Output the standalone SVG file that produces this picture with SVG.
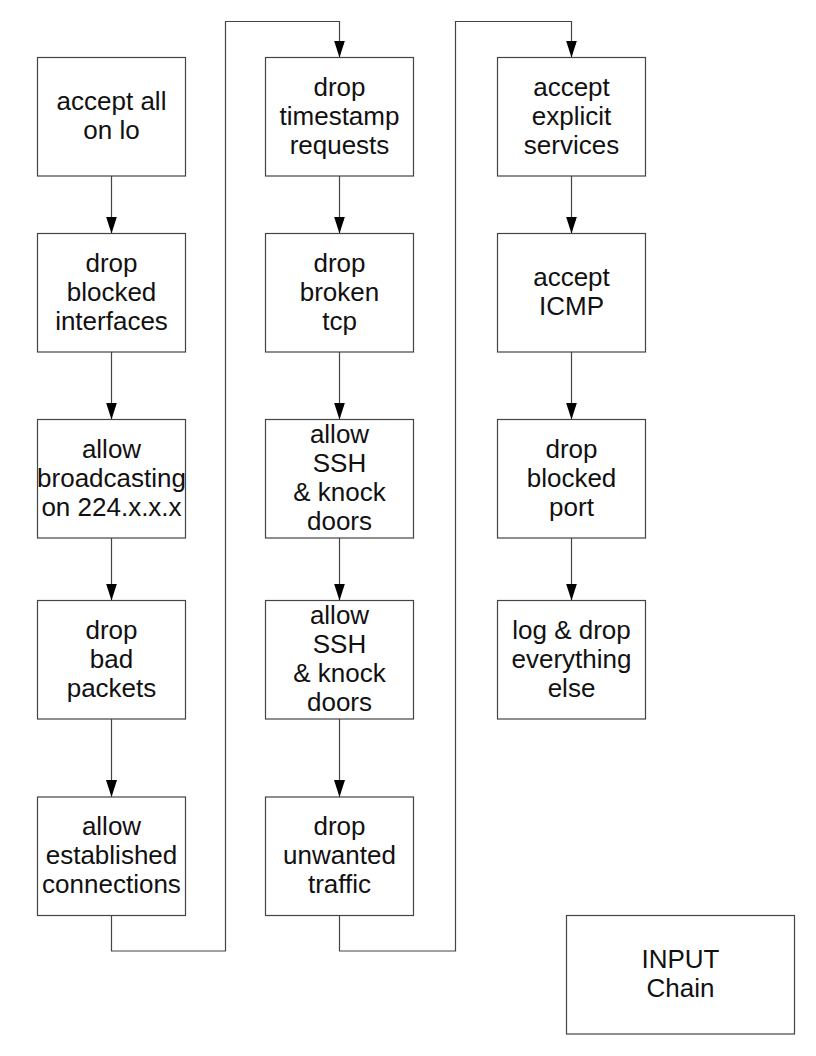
<svg xmlns="http://www.w3.org/2000/svg" width="816" height="1056" viewBox="0 0 816 1056">
<style>
.box{fill:#fff;stroke:#444;stroke-width:1.2}
.lbl{font-family:"Liberation Sans",Arial,sans-serif;font-size:26px;fill:#111;text-anchor:middle}
.con{fill:none;stroke:#444;stroke-width:1.2}
</style>
<defs>
<marker id="arr" viewBox="0 0 17 11" refX="17" refY="5.5" markerWidth="17" markerHeight="11" markerUnits="userSpaceOnUse" orient="auto">
<path d="M0,0 L17,5.5 L0,11 z" fill="#000"/>
</marker>
</defs>
<rect width="816" height="1056" fill="#fff"/>
<g id="connectors">
<path class="con" d="M111.5,176 V233.5" marker-end="url(#arr)"/>
<path class="con" d="M111.5,352 V419.5" marker-end="url(#arr)"/>
<path class="con" d="M111.5,538 V600.5" marker-end="url(#arr)"/>
<path class="con" d="M111.5,719 V797" marker-end="url(#arr)"/>
<path class="con" d="M111.5,915 V951 H225.5 V21.5 H339.5 V57.5" marker-end="url(#arr)"/>
<path class="con" d="M339.5,176 V233.5" marker-end="url(#arr)"/>
<path class="con" d="M339.5,352 V419.5" marker-end="url(#arr)"/>
<path class="con" d="M339.5,538 V600.5" marker-end="url(#arr)"/>
<path class="con" d="M339.5,719 V797" marker-end="url(#arr)"/>
<path class="con" d="M339.5,915 V951 H455.5 V21.5 H571.5 V57.5" marker-end="url(#arr)"/>
<path class="con" d="M571.5,176 V233.5" marker-end="url(#arr)"/>
<path class="con" d="M571.5,352 V419.5" marker-end="url(#arr)"/>
<path class="con" d="M571.5,538 V600.5" marker-end="url(#arr)"/>
</g>
<g id="n1"><rect class="box" x="37.5" y="57.5" width="148" height="118.5"/><text class="lbl" x="111.5" y="110">accept all</text><text class="lbl" x="111.5" y="139">on lo</text></g>
<g id="n2"><rect class="box" x="37.5" y="233.5" width="148" height="118.5"/><text class="lbl" x="111.5" y="271.5">drop</text><text class="lbl" x="111.5" y="300.5">blocked</text><text class="lbl" x="111.5" y="329.5">interfaces</text></g>
<g id="n3"><rect class="box" x="37.5" y="419.5" width="148" height="118.5"/><text class="lbl" x="111.5" y="457.5">allow</text><text class="lbl" x="111.5" y="486.5">broadcasting</text><text class="lbl" x="111.5" y="515.5">on 224.x.x.x</text></g>
<g id="n4"><rect class="box" x="37.5" y="600.5" width="148" height="118.5"/><text class="lbl" x="111.5" y="638.5">drop</text><text class="lbl" x="111.5" y="667.5">bad</text><text class="lbl" x="111.5" y="696.5">packets</text></g>
<g id="n5"><rect class="box" x="37.5" y="797" width="148" height="118.5"/><text class="lbl" x="111.5" y="835">allow</text><text class="lbl" x="111.5" y="864">established</text><text class="lbl" x="111.5" y="893">connections</text></g>
<g id="n6"><rect class="box" x="265.5" y="57.5" width="148" height="118.5"/><text class="lbl" x="339.5" y="95.5">drop</text><text class="lbl" x="339.5" y="124.5">timestamp</text><text class="lbl" x="339.5" y="153.5">requests</text></g>
<g id="n7"><rect class="box" x="265.5" y="233.5" width="148" height="118.5"/><text class="lbl" x="339.5" y="271.5">drop</text><text class="lbl" x="339.5" y="300.5">broken</text><text class="lbl" x="339.5" y="329.5">tcp</text></g>
<g id="n8"><rect class="box" x="265.5" y="419.5" width="148" height="118.5"/><text class="lbl" x="339.5" y="443">allow</text><text class="lbl" x="339.5" y="472">SSH</text><text class="lbl" x="339.5" y="501">&amp; knock</text><text class="lbl" x="339.5" y="530">doors</text></g>
<g id="n9"><rect class="box" x="265.5" y="600.5" width="148" height="118.5"/><text class="lbl" x="339.5" y="624">allow</text><text class="lbl" x="339.5" y="653">SSH</text><text class="lbl" x="339.5" y="682">&amp; knock</text><text class="lbl" x="339.5" y="711">doors</text></g>
<g id="n10"><rect class="box" x="265.5" y="797" width="148" height="118.5"/><text class="lbl" x="339.5" y="835">drop</text><text class="lbl" x="339.5" y="864">unwanted</text><text class="lbl" x="339.5" y="893">traffic</text></g>
<g id="n11"><rect class="box" x="497.5" y="57.5" width="148" height="118.5"/><text class="lbl" x="571.5" y="95.5">accept</text><text class="lbl" x="571.5" y="124.5">explicit</text><text class="lbl" x="571.5" y="153.5">services</text></g>
<g id="n12"><rect class="box" x="497.5" y="233.5" width="148" height="118.5"/><text class="lbl" x="571.5" y="286">accept</text><text class="lbl" x="571.5" y="315">ICMP</text></g>
<g id="n13"><rect class="box" x="497.5" y="419.5" width="148" height="118.5"/><text class="lbl" x="571.5" y="457.5">drop</text><text class="lbl" x="571.5" y="486.5">blocked</text><text class="lbl" x="571.5" y="515.5">port</text></g>
<g id="n14"><rect class="box" x="497.5" y="600.5" width="148" height="118.5"/><text class="lbl" x="571.5" y="638.5">log &amp; drop</text><text class="lbl" x="571.5" y="667.5">everything</text><text class="lbl" x="571.5" y="696.5">else</text></g>
<g id="title"><rect class="box" x="566.5" y="915.5" width="228" height="118.5"/><text class="lbl" x="680.5" y="968">INPUT</text><text class="lbl" x="680.5" y="997">Chain</text></g>
</svg>
